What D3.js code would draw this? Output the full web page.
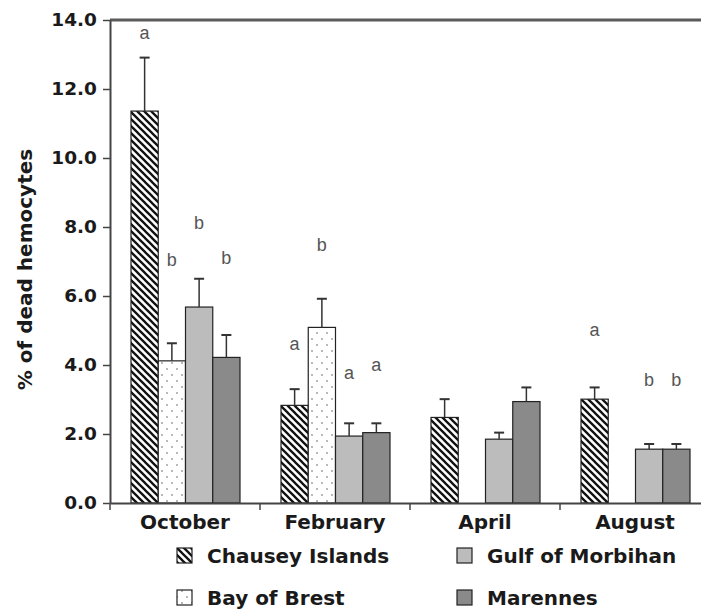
<!DOCTYPE html>
<html>
<head>
<meta charset="utf-8">
<script src="https://cdn.jsdelivr.net/npm/d3@7"></script>
<style>
  body { margin: 0; background: #fff; }
  svg { display: block; }
</style>
</head>
<body>
<svg id="chart" width="701" height="609"></svg>
<script>
// months and sites
const months = ["October", "February", "April", "August"];
const sites = ["Chausey Islands", "Bay of Brest", "Gulf of Morbihan", "Marennes"];

// mean % of dead hemocytes, one array per site (null = not sampled)
const chausey = [11.36, 2.83, 2.48, 3.01];
const brest = [4.12, 5.09, null, null];
const morbihan = [5.68, 1.94, 1.85, 1.56];
const marennes = [4.22, 2.04, 2.94, 1.56];

// standard error (upper bar only)
const chauseyErr = [1.55, 0.47, 0.53, 0.34];
const brestErr = [0.51, 0.83, null, null];
const morbihanErr = [0.82, 0.37, 0.19, 0.15];
const marennesErr = [0.65, 0.27, 0.41, 0.15];

// significance letters and the level (in %) where each sits
const chauseyLetters = ["a", "a", "", "a"];
const brestLetters = ["b", "b", "", ""];
const morbihanLetters = ["b", "a", "", "b"];
const marennesLetters = ["b", "a", "", "b"];
const chauseyLetterAt = [13.62, 4.61, null, 5.01];
const brestLetterAt = [7.04, 7.48, null, null];
const morbihanLetterAt = [8.12, 3.77, null, 3.57];
const marennesLetterAt = [7.1, 4.0, null, 3.57];

const yTicks = [0, 2, 4, 6, 8, 10, 12, 14];

const values = [chausey, brest, morbihan, marennes];
const errors = [chauseyErr, brestErr, morbihanErr, marennesErr];
const letters = [chauseyLetters, brestLetters, morbihanLetters, marennesLetters];
const letterAt = [chauseyLetterAt, brestLetterAt, morbihanLetterAt, marennesLetterAt];

const svg = d3.select("#chart");
const plotLeft = 110, plotTop = 20, plotBottom = 503, plotRight = 710;

const defs = svg.append("defs");
const hatch = defs.append("pattern")
    .attr("id", "hatch")
    .attr("patternUnits", "userSpaceOnUse")
    .attr("width", 7).attr("height", 7);
hatch.append("rect").attr("width", 7).attr("height", 7).attr("fill", "#fff");
hatch.append("path")
    .attr("d", "M-1,-1L8,8M-1,6L1,8M6,-1L8,1")
    .attr("stroke", "#111").attr("stroke-width", 2.3);

const dots = defs.append("pattern")
    .attr("id", "dots")
    .attr("patternUnits", "userSpaceOnUse")
    .attr("width", 10).attr("height", 12);
dots.append("rect").attr("width", 10).attr("height", 12).attr("fill", "#fff");
dots.append("circle").attr("cx", 2).attr("cy", 3).attr("r", 0.9).attr("fill", "#999");
dots.append("circle").attr("cx", 7).attr("cy", 9).attr("r", 0.9).attr("fill", "#999");

const fills = ["url(#hatch)", "url(#dots)", "#bcbcbc", "#8a8a8a"];

const x0 = d3.scaleBand().domain(months).range([plotLeft, plotRight]);
const x1 = d3.scaleBand().domain(sites).range([21, 130]);
const y = d3.scaleLinear().domain([0, 14]).range([plotBottom, plotTop]);

// top frame line
svg.append("line")
    .attr("x1", plotLeft).attr("x2", 701)
    .attr("y1", y(14)).attr("y2", y(14))
    .attr("stroke", "#5a5a5a").attr("stroke-width", 3);

// bars
const groups = svg.append("g").selectAll("g")
    .data(months)
    .join("g")
    .attr("transform", m => `translate(${x0(m)},0)`);

groups.each(function (m, mi) {
    const g = d3.select(this);
    sites.forEach((s, si) => {
        const v = values[si][mi];
        const bx = x1(s), bw = x1.bandwidth();
        if (v !== null) {
            g.append("rect")
                .attr("x", bx).attr("width", bw)
                .attr("y", y(v)).attr("height", y(0) - y(v))
                .attr("fill", fills[si])
                .attr("stroke", "#222").attr("stroke-width", 1.2);
            const e = errors[si][mi];
            const cx = bx + bw / 2;
            g.append("line")
                .attr("x1", cx).attr("x2", cx)
                .attr("y1", y(v)).attr("y2", y(v + e))
                .attr("stroke", "#333").attr("stroke-width", 1.5);
            g.append("line")
                .attr("x1", cx - 5).attr("x2", cx + 5)
                .attr("y1", y(v + e)).attr("y2", y(v + e))
                .attr("stroke", "#333").attr("stroke-width", 2);
        }
        const L = letters[si][mi];
        if (L) {
            g.append("text")
                .attr("x", bx + bw / 2)
                .attr("y", y(letterAt[si][mi]))
                .attr("dy", "0.35em")
                .attr("text-anchor", "middle")
                .attr("font-family", "Liberation Sans, Arial, sans-serif")
                .attr("font-size", 18)
                .attr("fill", "#555")
                .text(L);
        }
    });
});

// y axis
const yAxis = svg.append("g")
    .attr("transform", `translate(${plotLeft},0)`)
    .call(d3.axisLeft(y).tickValues(yTicks).tickFormat(d3.format(".1f")).tickSize(7).tickSizeOuter(0).tickPadding(6));
yAxis.select(".domain").attr("stroke", "#444").attr("stroke-width", 2);
yAxis.selectAll(".tick line").attr("stroke", "#444").attr("stroke-width", 1.5);
yAxis.selectAll("text")
    .attr("font-family", "DejaVu Sans, sans-serif")
    .attr("font-weight", "bold")
    .attr("font-size", 18.5)
    .attr("fill", "#1a1a1a");

// x axis
const xAxis = svg.append("g")
    .attr("transform", `translate(0,${plotBottom})`)
    .call(d3.axisBottom(x0).tickSize(0).tickSizeOuter(0).tickPadding(12));
xAxis.select(".domain").attr("stroke", "#444").attr("stroke-width", 2);
xAxis.selectAll("text")
    .attr("font-family", "DejaVu Sans, sans-serif")
    .attr("font-weight", "bold")
    .attr("font-size", 20)
    .attr("fill", "#1a1a1a");
xAxis.selectAll(".sep")
    .data(months)
    .join("line")
    .attr("class", "sep")
    .attr("x1", m => x0(m)).attr("x2", m => x0(m))
    .attr("y1", 0).attr("y2", 7)
    .attr("stroke", "#444").attr("stroke-width", 1.5);

// y title
svg.append("text")
    .attr("transform", `translate(32,${(plotTop + plotBottom) / 2 + 8}) rotate(-90)`)
    .attr("text-anchor", "middle")
    .attr("font-family", "DejaVu Sans, sans-serif")
    .attr("font-weight", "bold")
    .attr("font-size", 20)
    .attr("fill", "#1a1a1a")
    .text("% of dead hemocytes");

// legend
const legendX = [177, 457];
const legendY = [548, 590];
sites.forEach((s, i) => {
    const lx = legendX[i < 2 ? 0 : 1];
    const ly = legendY[i % 2];
    svg.append("rect")
        .attr("x", lx).attr("y", ly)
        .attr("width", 15).attr("height", 15)
        .attr("fill", fills[i])
        .attr("stroke", "#222").attr("stroke-width", 1.2);
    svg.append("text")
        .attr("x", lx + 30).attr("y", ly + 8)
        .attr("dy", "0.36em")
        .attr("font-family", "DejaVu Sans, sans-serif")
        .attr("font-weight", "bold")
        .attr("font-size", 20)
        .attr("fill", "#1a1a1a")
        .text(s);
});
</script>
</body>
</html>
